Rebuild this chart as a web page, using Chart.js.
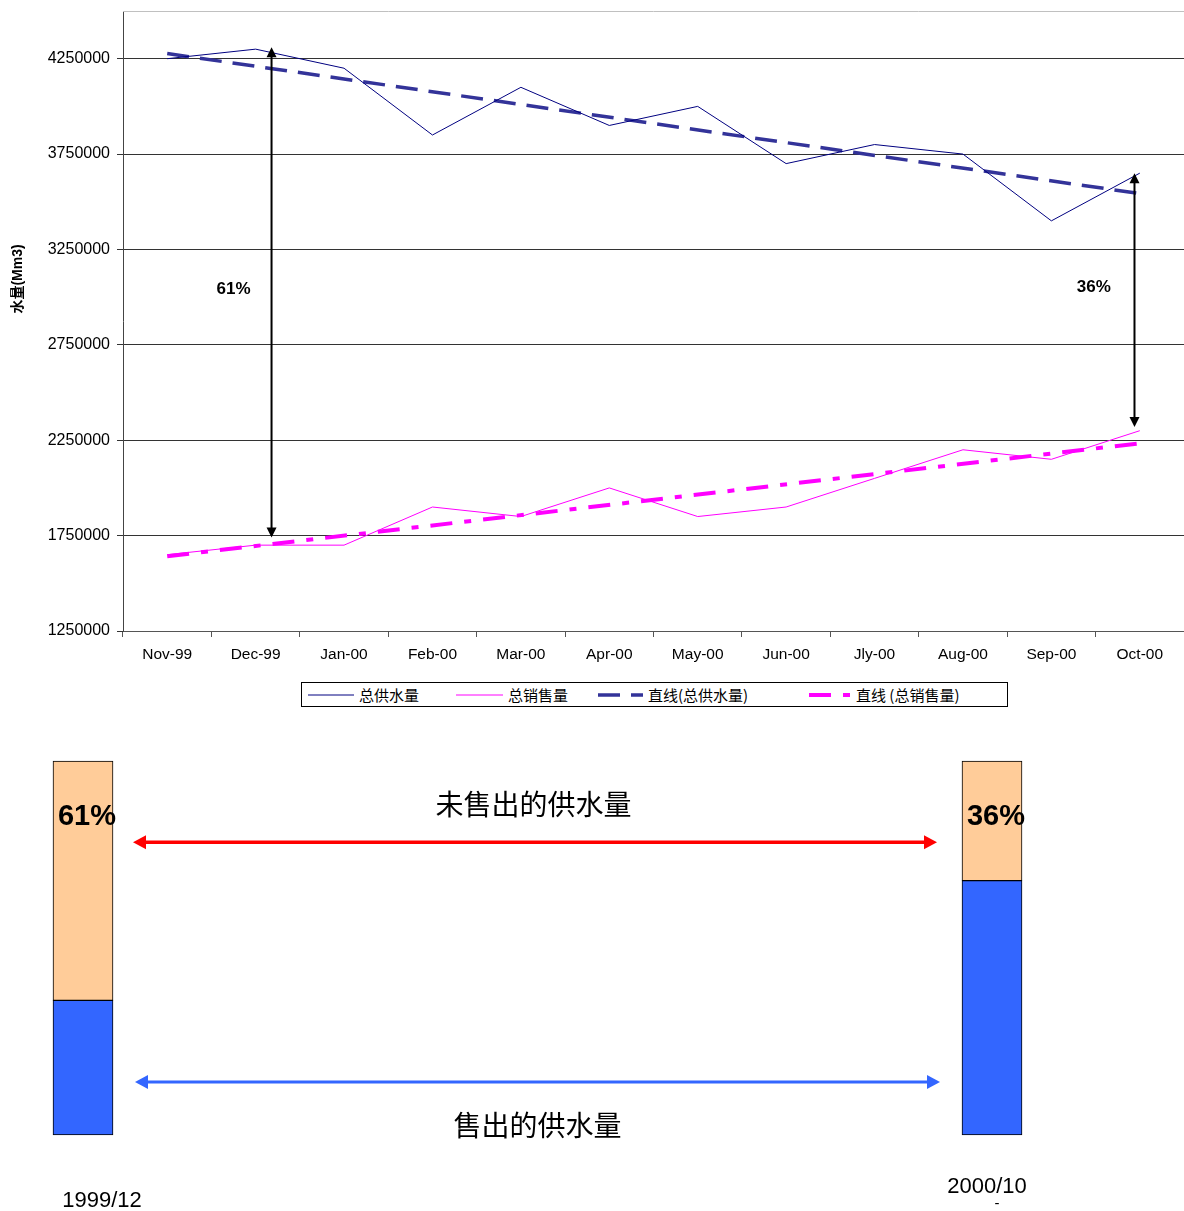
<!DOCTYPE html>
<html lang="zh">
<head>
<meta charset="UTF-8">
<title>总供水量与总销售量</title>
<script src="https://cdn.jsdelivr.net/npm/chart.js"></script>
<style>
  body { margin: 0; background: #fff; }
  #page { position: relative; width: 1184px; height: 1211px; overflow: hidden; }
  #lineChart { position: absolute; left: 0; top: 0; }
  #barChart { position: absolute; left: 0; top: 740px; }
  #legend { position: absolute; left: 301px; top: 682px; width: 705px; height: 23px;
            border: 1px solid #000; font: 15px "Noto Sans CJK SC", sans-serif; color: #000; }
  .item { position: absolute; top: 0; height: 23px; display: flex; align-items: center; white-space: nowrap; }
  .item svg { margin-right: 5px; }
</style>
</head>
<body>
<div id="page">
  <canvas id="lineChart" width="1184" height="680"></canvas>
  <div id="legend"></div>
  <canvas id="barChart" width="1184" height="471"></canvas>
</div>
<script>
// monthly water volumes (Mm3)
const months = ['Nov-99', 'Dec-99', 'Jan-00', 'Feb-00', 'Mar-00', 'Apr-00',
                'May-00', 'Jun-00', 'Jly-00', 'Aug-00', 'Sep-00', 'Oct-00'];
const totalSupply = [4250000, 4300000, 4200000, 3850000, 4100000, 3900000,
                     4000000, 3700000, 3800000, 3750000, 3400000, 3650000];
const totalSales = [1650000, 1700000, 1700000, 1900000, 1850000, 2000000,
                    1850000, 1900000, 2050000, 2200000, 2150000, 2300000];
// trend lines: only the two ends are read, the line spans the gap
const supplyTrend = [4277000, null, null, null, null, null, null, null, null, null, null, 3543000];
const salesTrend = [1642000, null, null, null, null, null, null, null, null, null, null, 2234000];
const yTicks = [1250000, 1750000, 2250000, 2750000, 3250000, 3750000, 4250000];
const yMax = 4500000;

// share of supply at start and end of period
const barDates = ['1999/12', '2000/10'];
const soldShare = [36, 68];
const unsoldShare = [64, 32];
const unsoldLabels = ['61%', '36%'];

// gap annotations on the line chart (category index / value)
const gapNotes = [
  { at: 1.18, from: 4310000, to: 1740000, text: '61%', textAt: 0.75, textY: 3040000 },
  { at: 10.94, from: 3650000, to: 2320000, text: '36%', textAt: 10.48, textY: 3050000 }
];
const flowLevels = { unsold: 78.3, sold: 14.2 };

Chart.defaults.font.family = '"Liberation Sans", Arial, "Noto Sans CJK SC", sans-serif';
Chart.defaults.color = '#000';

function arrowHead(ctx, x, y, ux, uy, len, half) {
  ctx.beginPath();
  ctx.moveTo(x, y);
  ctx.lineTo(x - ux * len - uy * half, y - uy * len + ux * half);
  ctx.lineTo(x - ux * len + uy * half, y - uy * len - ux * half);
  ctx.closePath();
  ctx.fill();
}

function doubleArrow(ctx, x1, y1, x2, y2, color, width, len, half) {
  const d = Math.hypot(x2 - x1, y2 - y1);
  const ux = (x2 - x1) / d, uy = (y2 - y1) / d;
  ctx.save();
  ctx.strokeStyle = color;
  ctx.fillStyle = color;
  ctx.lineWidth = width;
  ctx.beginPath();
  ctx.moveTo(x1 + ux * len * 0.8, y1 + uy * len * 0.8);
  ctx.lineTo(x2 - ux * len * 0.8, y2 - uy * len * 0.8);
  ctx.stroke();
  arrowHead(ctx, x2, y2, ux, uy, len, half);
  arrowHead(ctx, x1, y1, -ux, -uy, len, half);
  ctx.restore();
}

const gapArrows = {
  id: 'gapArrows',
  beforeDatasetsDraw(chart) {
    // light frame line along the top of the plot
    const { ctx, chartArea: a } = chart;
    ctx.save();
    ctx.strokeStyle = '#c0c0c0';
    ctx.lineWidth = 1;
    ctx.beginPath();
    ctx.moveTo(a.left, a.top + 0.5);
    ctx.lineTo(a.right, a.top + 0.5);
    ctx.stroke();
    ctx.restore();
  },
  afterDatasetsDraw(chart) {
    const { ctx, scales: { x, y } } = chart;
    gapNotes.forEach(n => {
      const px = x.getPixelForValue(n.at);
      doubleArrow(ctx, px, y.getPixelForValue(n.from), px, y.getPixelForValue(n.to), '#000', 2, 10, 5);
      ctx.save();
      ctx.font = 'bold 17px "Liberation Sans", Arial';
      ctx.textAlign = 'center';
      ctx.textBaseline = 'middle';
      ctx.fillStyle = '#000';
      ctx.fillText(n.text, x.getPixelForValue(n.textAt), y.getPixelForValue(n.textY));
      ctx.restore();
    });
  },
  afterDraw(chart) {
    const ctx = chart.ctx;
    ctx.save();
    ctx.translate(18, 279);
    ctx.rotate(-Math.PI / 2);
    ctx.font = 'bold 14px "Liberation Sans", Arial, "Noto Sans CJK SC"';
    ctx.textAlign = 'center';
    ctx.textBaseline = 'middle';
    ctx.fillStyle = '#000';
    ctx.fillText('水量(Mm3)', 0, 0);
    ctx.restore();
  }
};

const lineChart = new Chart(document.getElementById('lineChart'), {
  type: 'line',
  data: {
    labels: months,
    datasets: [
      { label: '总供水量', data: totalSupply, borderColor: '#000080', borderWidth: 1,
        pointRadius: 0, tension: 0, fill: false },
      { label: '总销售量', data: totalSales, borderColor: '#FF00FF', borderWidth: 1,
        pointRadius: 0, tension: 0, fill: false },
      { label: '直线(总供水量)', data: supplyTrend, borderColor: '#333399', borderWidth: 3.5,
        borderDash: [22, 11], spanGaps: true, pointRadius: 0, fill: false },
      { label: '直线 (总销售量)', data: salesTrend, borderColor: '#FF00FF', borderWidth: 4,
        borderDash: [22, 12, 7, 12], spanGaps: true, pointRadius: 0, fill: false }
    ]
  },
  options: {
    responsive: false,
    animation: false,
    layout: { padding: { top: 11, left: 0, right: 0, bottom: 0 } },
    plugins: { legend: { display: false }, tooltip: { enabled: false } },
    scales: {
      x: {
        offset: true,
        afterFit: s => { s.height = 49; },
        grid: { offset: true, drawOnChartArea: false, drawTicks: true, tickLength: 6, color: '#555' },
        border: { color: '#555', width: 1 },
        ticks: { font: { size: 15.5 }, padding: 8, maxRotation: 0, autoSkip: false }
      },
      y: {
        min: yTicks[0],
        max: yMax,
        afterFit: s => { s.width = 123; s.paddingTop = 0; s.paddingBottom = 0; },
        afterBuildTicks: s => { s.ticks = yTicks.map(v => ({ value: v })); },
        grid: { tickLength: 6, color: '#333' },
        border: { color: '#444', width: 1 },
        ticks: { font: { size: 16 }, padding: 7, callback: v => String(v) }
      }
    }
  },
  plugins: [gapArrows]
});

// legend built from the chart's datasets
const legendSpots = [
  { left: 6, w: 46, dash: '' },
  { left: 154, w: 47, dash: '' },
  { left: 296, w: 45, dash: '22 11' },
  { left: 507, w: 42, dash: '22 12 7 12' }
];
const legendEl = document.getElementById('legend');
lineChart.data.datasets.forEach((ds, i) => {
  const s = legendSpots[i];
  const item = document.createElement('div');
  item.className = 'item';
  item.style.left = s.left + 'px';
  item.innerHTML =
    '<svg width="' + s.w + '" height="10"><line x1="0" y1="5" x2="' + s.w + '" y2="5" stroke="' +
    ds.borderColor + '" stroke-width="' + ds.borderWidth + '"' +
    (s.dash ? ' stroke-dasharray="' + s.dash + '"' : '') + '/></svg><span>' + ds.label + '</span>';
  legendEl.appendChild(item);
});

const flowArrows = {
  id: 'flowArrows',
  afterDatasetsDraw(chart) {
    const { ctx, scales: { y } } = chart;
    const bars = chart.getDatasetMeta(1).data;
    const b0 = bars[0], b1 = bars[1];
    const yRed = y.getPixelForValue(flowLevels.unsold);
    const yBlue = y.getPixelForValue(flowLevels.sold);
    const l0 = b0.x + b0.width / 2, r1 = b1.x - b1.width / 2;
    doubleArrow(ctx, l0 + 20, yRed, r1 - 25, yRed, '#FF0000', 3.5, 13, 7);
    doubleArrow(ctx, l0 + 22, yBlue, r1 - 22, yBlue, '#3366FF', 3, 13, 7);

    ctx.save();
    ctx.fillStyle = '#000';
    ctx.textAlign = 'center';
    ctx.textBaseline = 'middle';
    ctx.font = '28px "Noto Sans CJK SC", sans-serif';
    ctx.fillText(chart.data.datasets[1].label, (l0 + r1) / 2 - 4, yRed - 38);
    ctx.fillText(chart.data.datasets[0].label, (l0 + r1) / 2 + 0, yBlue + 43);

    ctx.font = 'bold 29px "Liberation Sans", Arial';
    bars.forEach((b, i) => ctx.fillText(unsoldLabels[i], b.x + 4, b.y + 56));

    ctx.font = '22px "Liberation Sans", Arial';
    ctx.fillText(chart.data.labels[0], b0.x + 19, 461);
    ctx.fillText(chart.data.labels[1], b1.x - 5, 447);
    ctx.font = '15px "Liberation Sans", Arial';
    ctx.fillText('-', b1.x + 5, 464);
    ctx.restore();
  }
};

new Chart(document.getElementById('barChart'), {
  type: 'bar',
  data: {
    labels: barDates,
    datasets: [
      { label: '售出的供水量', data: soldShare, backgroundColor: '#3366FF', borderColor: '#000',
        borderWidth: 1, borderSkipped: false, barThickness: 60, clip: false },
      { label: '未售出的供水量', data: unsoldShare, backgroundColor: '#FFCC99', borderColor: '#000',
        borderWidth: 1, borderSkipped: false, barThickness: 60, clip: false }
    ]
  },
  options: {
    responsive: false,
    animation: false,
    layout: { padding: { left: 83, right: 192, top: 21, bottom: 76 } },
    plugins: { legend: { display: false }, tooltip: { enabled: false } },
    scales: {
      x: { display: false, stacked: true, offset: false },
      y: { display: false, stacked: true, min: 0, max: 100 }
    }
  },
  plugins: [flowArrows]
});
</script>
</body>
</html>
